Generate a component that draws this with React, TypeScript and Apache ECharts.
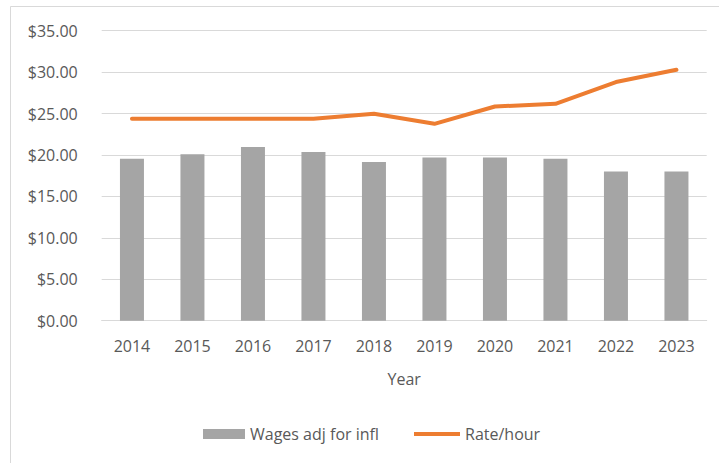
import React, { useEffect, useRef } from "react";
import * as echarts from "echarts";

const years = ["2014", "2015", "2016", "2017", "2018", "2019", "2020", "2021", "2022", "2023"];
const wagesAdj = [19.55, 20.1, 20.95, 20.35, 19.15, 19.7, 19.7, 19.55, 18.0, 18.0];
const ratePerHour = [24.37, 24.37, 24.37, 24.37, 24.97, 23.76, 25.85, 26.18, 28.8, 30.28];

const FONT = "'Open Sans', sans-serif";
const TXT = "#595959";

export default function App() {
  const ref = useRef<HTMLDivElement>(null);
  useEffect(() => {
    if (!ref.current) return;
    const chart = echarts.init(ref.current, undefined, { renderer: "svg" });
    chart.setOption({
      animation: false,
      backgroundColor: "#ffffff",
      textStyle: { fontFamily: FONT, color: TXT },
      grid: { left: 101.7, right: 12.3, top: 30.7, bottom: 142.3 },
      graphic: [
        {
          type: "rect",
          shape: { x: 10.5, y: 6.5, width: 730, height: 480 },
          style: { fill: "none", stroke: "#d9d9d9", lineWidth: 1 },
          silent: true,
        },
      ],
      legend: [
        {
          data: [{ name: "Wages adj for infl", icon: "rect" }],
          left: 203,
          top: 426,
          padding: 0,
          itemWidth: 42,
          itemHeight: 10,
          textStyle: { fontFamily: FONT, fontSize: 16, color: TXT },
        },
        {
          data: [{ name: "Rate/hour", icon: "rect" }],
          left: 414,
          top: 426,
          padding: 0,
          itemWidth: 46,
          itemHeight: 4,
          textStyle: { fontFamily: FONT, fontSize: 16, color: TXT },
        },
      ],
      xAxis: {
        type: "category",
        data: years,
        name: "Year",
        nameLocation: "middle",
        nameGap: 50,
        nameTextStyle: { fontFamily: FONT, fontSize: 16, color: TXT },
        axisTick: { show: false },
        axisLine: { lineStyle: { color: "#d9d9d9", width: 1 } },
        axisLabel: { fontFamily: FONT, fontSize: 16, color: TXT, margin: 17 },
      },
      yAxis: {
        type: "value",
        min: 0,
        max: 35,
        interval: 5,
        axisLine: { show: false },
        axisTick: { show: false },
        splitLine: { lineStyle: { color: "#d9d9d9", width: 1 } },
        axisLabel: {
          fontFamily: FONT,
          fontSize: 16,
          color: TXT,
          margin: 24,
          formatter: (v: number) => "$" + v.toFixed(2),
        },
      },
      series: [
        {
          name: "Wages adj for infl",
          type: "bar",
          data: wagesAdj,
          barWidth: 24,
          itemStyle: { color: "#a5a5a5" },
        },
        {
          name: "Rate/hour",
          type: "line",
          data: ratePerHour,
          symbol: "none",
          itemStyle: { color: "#ed7d31" },
          lineStyle: { color: "#ed7d31", width: 4, cap: "round", join: "round" },
        },
      ],
    });
    return () => chart.dispose();
  }, []);
  return (
    <div
      ref={ref}
      style={{ position: "fixed", left: 0, top: 0, width: 719, height: 463 }}
    />
  );
}
